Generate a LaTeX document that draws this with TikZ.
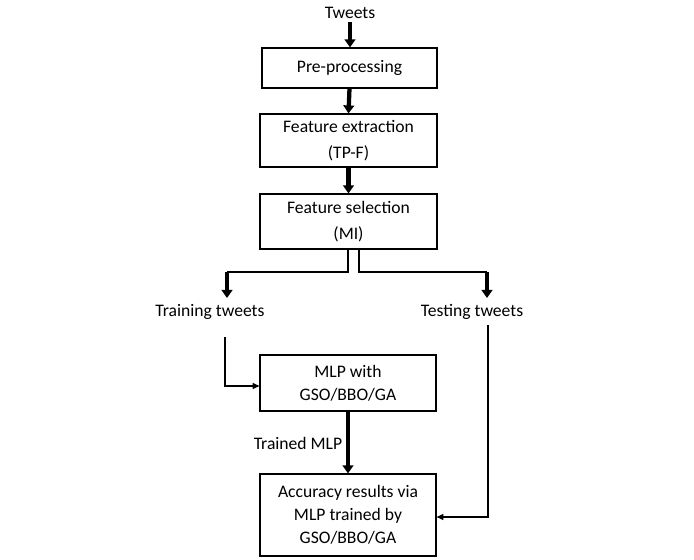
\documentclass[tikz,border=0pt]{standalone}
\usepackage{fontspec}
\setmainfont{Carlito}
\usetikzlibrary{arrows.meta}
\begin{document}
\begin{tikzpicture}[x=0.75pt,y=-0.75pt,
  box/.style={draw,line width=0.9pt,inner sep=0pt,align=center,font=\fontsize{13.2pt}{17.25pt}\selectfont},
  widebox/.style={box,font=\fontsize{13.2pt}{19.5pt}\selectfont},
  lbl/.style={inner sep=1pt,font=\fontsize{13.2pt}{16pt}\selectfont},
  thick arrow/.style={line width=3.2pt,-{Triangle[length=6pt,width=8pt]}},
  thin line/.style={line width=1.1pt},
  thin arrow/.style={line width=1.1pt,-{Triangle[length=5pt,width=4.5pt]}}]
\useasboundingbox (0,0) rectangle (694,560);
\node[lbl] (tw) at (350,13) {Tweets};
\node[box,minimum width=131.25pt,minimum height=30pt] (pre) at (349.5,68) {Pre-processing};
\node[widebox,minimum width=132.75pt,minimum height=39.75pt] (fe) at (348.5,140.5) {Feature extraction\\(TP-F)};
\node[widebox,minimum width=132.75pt,minimum height=41.25pt] (fs) at (348.5,221.5) {Feature selection\\(MI)};
\node[lbl] (tr) at (210,312) {Training tweets};
\node[lbl] (te) at (472,312) {Testing tweets};
\node[box,minimum width=132pt,minimum height=42pt] (mlp) at (348,383) {MLP with\\GSO/BBO/GA};
\node[box,minimum width=132pt,minimum height=61.5pt] (acc) at (348,515) {Accuracy results via\\MLP trained by\\GSO/BBO/GA};
\node[lbl] (tm) at (298,443) {Trained MLP};
% arrows
\coordinate (a0) at (350,22);
\draw[thick arrow] (a0) -- (a0 |- pre.north);
\draw[thick arrow] (pre.south) -- (fe.north);
\draw[thick arrow] (fe.south) -- (fs.north);
% split
\coordinate (l1) at (348,249);
\coordinate (l2) at (348,272);
\coordinate (l3) at (227,272);
\coordinate (r1) at (359,249);
\coordinate (r2) at (359,272);
\coordinate (r3) at (487,272);
\coordinate (l4) at (227,298);
\coordinate (r4) at (487,298);
\draw[thin line] (l1) -- (l2) -- (l3);
\draw[thin line] (r1) -- (r2) -- (r3);
\draw[thick arrow] (l3) -- (l4);
\draw[thick arrow] (r3) -- (r4);
% training
\coordinate (t1) at (225,337);
\coordinate (t2) at (225,386);
\draw[thin arrow] (t1) -- (t2) -- (t2 -| mlp.west);
\draw[thick arrow] (mlp.south) -- (acc.north);
% testing
\coordinate (s1) at (488,325);
\coordinate (s2) at (488,517);
\draw[thin arrow] (s1) -- (s2) -- (s2 -| acc.east);
\end{tikzpicture}
\end{document}
